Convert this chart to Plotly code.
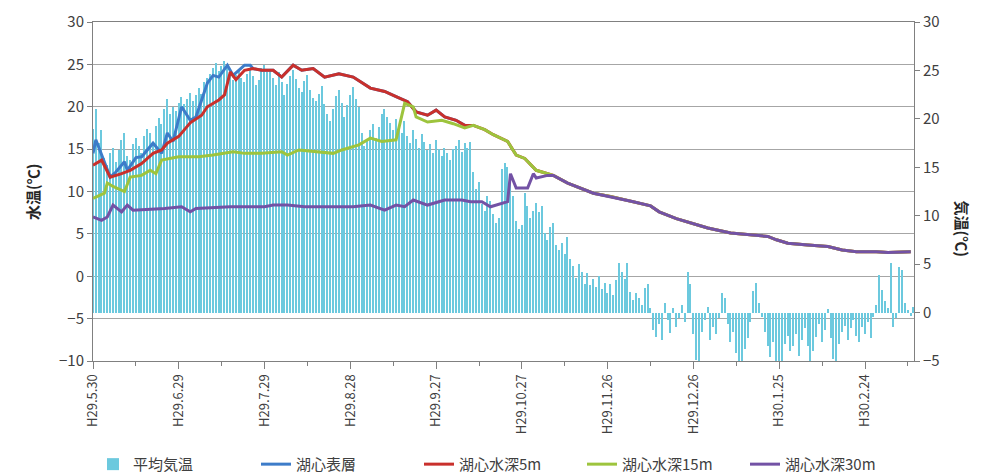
import pandas as pd
import plotly.graph_objects as go

# ---------------- data ----------------
# daily mean air temperature (right axis, ℃), 2017-05-30 .. 2018-03-13
air_may = [19.0, 21.0]
air_jun = [17.5, 18.8, 16.0, 15.2, 16.5, 17.0, 15.5, 16.8, 17.8, 18.5,
           16.2, 15.8, 17.4, 18.0, 17.2, 16.5, 18.2, 19.0, 18.5, 17.6,
           19.3, 20.1, 19.5, 21.0, 22.0, 20.5, 21.2, 20.8, 21.6, 22.3]
air_jul = [21.5, 22.0, 22.7, 21.8, 22.5, 23.2, 22.6, 23.8, 24.2, 24.6,
           25.3, 25.8, 24.9, 25.5, 26.0, 25.2, 24.8, 24.0, 24.5, 25.0,
           24.2, 23.8, 24.6, 25.1, 24.4, 23.5, 24.0, 25.2, 25.6, 24.8, 25.0]
air_aug = [24.2, 23.5, 24.8, 23.8, 22.5, 23.6, 24.4, 25.0, 24.1, 23.2,
           22.8, 23.9, 24.5, 23.0, 22.2, 21.8, 22.6, 23.4, 21.5, 20.5,
           19.8, 21.0, 22.4, 23.0, 21.6, 20.2, 21.4, 22.5, 23.3, 22.0, 21.2]
air_sep = [18.5, 17.2, 17.8, 18.9, 19.5, 18.0, 19.2, 20.5, 21.0, 20.2,
           19.6, 18.8, 20.0, 19.4, 18.5, 19.8, 18.2, 17.5, 18.8, 17.9,
           17.0, 18.4, 17.6, 16.8, 17.4, 16.5, 17.8, 16.9, 16.2, 17.0]
air_oct = [16.5, 15.8, 16.9, 17.2, 17.8, 16.6, 17.5, 17.0, 17.6, 14.5,
           12.8, 13.5, 11.2, 10.5, 12.0, 11.5, 10.2, 9.2, 9.8, 14.8,
           15.4, 15.0, 14.2, 12.0, 9.5, 8.6, 9.0, 12.3, 11.0, 9.8, 10.5]
air_nov = [11.3, 10.4, 11.0, 8.2, 7.5, 8.8, 9.2, 7.0, 6.5, 7.2,
           6.0, 7.8, 5.5, 4.8, 3.6, 5.0, 4.2, 3.0, 4.1, 2.8,
           3.5, 2.6, 3.8, 2.4, 3.1, 2.0, 2.9, 1.8, 3.4, 5.1]
air_dec = [4.2, 3.5, 5.1, 2.1, 1.3, 2.0, 1.5, 0.8, 2.5, 3.0,
           0.5, -1.8, -2.5, -1.2, -2.8, 1.0, -0.8, -2.1, 0.5, -1.5,
           -0.6, 0.8, -1.0, 4.2, 3.0, -2.2, -4.9, -5.4, -2.0, -0.8, 0.6]
air_jan = [-2.8, -1.5, -2.2, -0.6, 2.0, 1.5, -1.2, -3.0, -2.0, -4.2,
           -5.5, -5.8, -3.8, -2.6, -1.0, 2.2, 3.1, 1.0, -0.5, -2.0,
           -3.5, -4.6, -3.0, -5.6, -6.0, -5.2, -3.2, -2.4, -4.0, -3.4, -2.2]
air_feb = [-4.5, -2.8, -1.6, -3.5, -5.4, -4.0, -2.5, -1.2, -3.0, -1.8,
           0.4, -2.6, -4.8, -5.5, -3.2, -2.0, -1.4, -2.8, -1.6, -0.8,
           -2.4, -3.0, -1.5, -2.2, -1.0, -2.6, -0.5, 0.8]
air_mar = [3.9, 2.3, 1.2, 0.5, 5.1, -1.5, -0.6, 4.7, 4.4, 1.0, 0.3, -0.4, 0.6]

air_temp = (air_may + air_jun + air_jul + air_aug + air_sep + air_oct +
            air_nov + air_dec + air_jan + air_feb + air_mar)
air_dates = pd.date_range("2017-05-30", periods=len(air_temp), freq="D")

# water temperature (left axis, ℃)
surf_dates = ["2017-05-30", "2017-05-31", "2017-06-05", "2017-06-07", "2017-06-10",
              "2017-06-11", "2017-06-14", "2017-06-16", "2017-06-20", "2017-06-23",
              "2017-06-25", "2017-06-27", "2017-06-30", "2017-07-03", "2017-07-05",
              "2017-07-09", "2017-07-11", "2017-07-13", "2017-07-16", "2017-07-18",
              "2017-07-22", "2017-07-24"]
surf_vals = [14.5, 16.1, 11.7, 12.3, 13.5,
             12.5, 14.0, 14.1, 15.7, 14.5,
             16.9, 15.9, 20.0, 18.4, 18.8,
             22.8, 23.7, 23.5, 24.9, 23.7,
             24.9, 24.9]

m5_dates = ["2017-05-30", "2017-06-02", "2017-06-05", "2017-06-09", "2017-06-12",
            "2017-06-16", "2017-06-20", "2017-06-23", "2017-06-25", "2017-06-29",
            "2017-07-03", "2017-07-07", "2017-07-09", "2017-07-13", "2017-07-15",
            "2017-07-17", "2017-07-19", "2017-07-22", "2017-07-25", "2017-07-28",
            "2017-08-01", "2017-08-04", "2017-08-08", "2017-08-11", "2017-08-15",
            "2017-08-19", "2017-08-24", "2017-08-29", "2017-09-04", "2017-09-09",
            "2017-09-13", "2017-09-17", "2017-09-20", "2017-09-24", "2017-09-27",
            "2017-09-30", "2017-10-04", "2017-10-07"]
m5_vals = [13.1, 13.7, 11.7, 12.1, 12.5,
           13.3, 14.5, 14.9, 15.7, 16.5,
           18.1, 19.0, 20.0, 20.8, 21.4,
           24.1, 23.2, 24.3, 24.5, 24.3,
           24.3, 23.5, 24.9, 24.3, 24.5,
           23.5, 23.9, 23.5, 22.2, 21.8,
           21.2, 20.6, 19.4, 19.0, 19.6,
           18.8, 18.4, 17.8]

m15_dates = ["2017-05-30", "2017-06-03", "2017-06-04", "2017-06-06", "2017-06-10",
             "2017-06-12", "2017-06-16", "2017-06-19", "2017-06-21", "2017-06-23",
             "2017-06-29", "2017-07-06", "2017-07-11", "2017-07-18", "2017-07-22",
             "2017-07-28", "2017-08-04", "2017-08-06", "2017-08-10", "2017-08-15",
             "2017-08-22", "2017-08-25", "2017-08-31", "2017-09-04", "2017-09-08",
             "2017-09-13", "2017-09-16", "2017-09-19", "2017-09-20", "2017-09-24",
             "2017-09-29", "2017-10-03", "2017-10-07"]
m15_vals = [9.2, 9.8, 11.0, 10.6, 10.0,
            11.7, 11.9, 12.5, 12.1, 13.7,
            14.1, 14.1, 14.3, 14.7, 14.5,
            14.5, 14.7, 14.3, 14.9, 14.7,
            14.5, 14.9, 15.5, 16.3, 15.9,
            16.1, 20.4, 20.0, 18.8, 18.2,
            18.4, 18.0, 17.5]

# 5m and 15m run together from mid-October
mix_dates = ["2017-10-10", "2017-10-14", "2017-10-17", "2017-10-22", "2017-10-25",
             "2017-10-28", "2017-11-01", "2017-11-07"]
mix_vals = [17.8, 17.3, 16.7, 15.9, 14.3,
            13.9, 12.5, 11.9]

m30_dates = ["2017-05-30", "2017-06-02", "2017-06-04", "2017-06-06", "2017-06-09",
             "2017-06-11", "2017-06-13", "2017-06-24", "2017-06-30", "2017-07-03",
             "2017-07-05", "2017-07-17", "2017-07-29", "2017-08-01", "2017-08-06",
             "2017-08-12", "2017-08-24", "2017-08-29", "2017-09-04", "2017-09-09",
             "2017-09-13", "2017-09-16", "2017-09-19", "2017-09-24", "2017-09-30",
             "2017-10-06", "2017-10-09", "2017-10-13", "2017-10-16", "2017-10-22",
             "2017-10-23", "2017-10-25", "2017-10-29", "2017-10-31", "2017-11-01",
             "2017-11-05", "2017-11-07"]
m30_vals = [7.0, 6.6, 7.0, 8.4, 7.6,
            8.4, 7.8, 8.0, 8.2, 7.6,
            8.0, 8.2, 8.2, 8.4, 8.4,
            8.2, 8.2, 8.2, 8.4, 7.8,
            8.4, 8.2, 9.0, 8.4, 9.0,
            9.0, 8.8, 8.8, 8.2, 8.8,
            12.1, 10.4, 10.4, 12.1, 11.6,
            11.9, 11.9]

# all layers together from November (winter overturn)
tail_dates = ["2017-11-12", "2017-11-21", "2017-11-27", "2017-12-05", "2017-12-11",
              "2017-12-14", "2017-12-20", "2017-12-26", "2017-12-31", "2018-01-08",
              "2018-01-15", "2018-01-21", "2018-01-24", "2018-01-28", "2018-02-04",
              "2018-02-11", "2018-02-16", "2018-02-21", "2018-02-28", "2018-03-04",
              "2018-03-12"]
tail_vals = [11.0, 9.8, 9.4, 8.8, 8.3,
             7.6, 6.8, 6.2, 5.7, 5.1,
             4.9, 4.7, 4.3, 3.9, 3.7,
             3.5, 3.1, 2.9, 2.9, 2.8,
             2.9]

tick_dates = ["2017-05-30", "2017-06-29", "2017-07-29", "2017-08-28", "2017-09-27",
              "2017-10-27", "2017-11-26", "2017-12-26", "2018-01-25", "2018-02-24"]
tick_text = ["H29.5.30", "H29.6.29", "H29.7.29", "H29.8.28", "H29.9.27",
             "H29.10.27", "H29.11.26", "H29.12.26", "H30.1.25", "H30.2.24"]

names = ["平均気温", "湖心表層", "湖心水深5m", "湖心水深15m", "湖心水深30m"]
colors = ["#6CC9DE", "#3D7CC9", "#C9302C", "#9DC43D", "#7352A5"]

# surface layer is hidden under the 5m line once they coincide (late July on)
k = m5_dates.index("2017-07-25")
surf_x = surf_dates + m5_dates[k:]
surf_y = surf_vals + m5_vals[k:]

# ---------------- figure ----------------
FONT = "Noto Sans CJK JP, Liberation Sans, sans-serif"
fig = go.Figure()

# bars on the base axis (y, shown on the right) so the water lines (y2) sit on top
fig.add_trace(go.Bar(x=air_dates, y=air_temp, name=names[0], yaxis="y",
                     marker=dict(color=colors[0], line=dict(width=0)),
                     width=86400000 * 0.5))

fig.add_trace(go.Scatter(x=surf_x, y=surf_y, mode="lines", name=names[1],
                         yaxis="y2", line=dict(color=colors[1], width=3)))
fig.add_trace(go.Scatter(x=m5_dates + mix_dates + tail_dates,
                         y=m5_vals + mix_vals + tail_vals, mode="lines", name=names[2],
                         yaxis="y2", line=dict(color=colors[2], width=3)))
fig.add_trace(go.Scatter(x=m15_dates + mix_dates + tail_dates,
                         y=m15_vals + mix_vals + tail_vals, mode="lines", name=names[3],
                         yaxis="y2", line=dict(color=colors[3], width=3)))
fig.add_trace(go.Scatter(x=m30_dates + tail_dates,
                         y=m30_vals + tail_vals, mode="lines", name=names[4],
                         yaxis="y2", line=dict(color=colors[4], width=3)))

# the page places the figure 8px from the top-left corner, so the figure is
# 8px smaller than the window and the left/top margins are 8px smaller too
fig.update_layout(
    width=982, height=468,
    margin=dict(l=85, r=76, t=14, b=115, autoexpand=False),
    paper_bgcolor="white", plot_bgcolor="white",
    font=dict(family=FONT, size=14, color="#404040"),
    bargap=0,
    showlegend=True,
    legend=dict(orientation="h", x=0.0, xanchor="left", y=-0.305, yanchor="middle",
                font=dict(size=15, color="#404040"), entrywidth=118,
                traceorder="normal", itemwidth=30),
    xaxis=dict(
        type="date", automargin=False,
        range=["2017-05-30", "2018-03-13 03:00"],
        tickmode="array", tickvals=tick_dates, ticktext=tick_text,
        tickangle=-90, tickfont=dict(size=13, color="#404040"),
        ticks="outside", ticklen=7, tickcolor="#808080",
        showline=True, linecolor="#808080", linewidth=1, mirror=True,
        showgrid=False, zeroline=False,
        minor=dict(ticks="outside", ticklen=4, tickcolor="#808080",
                   dtick=15 * 86400000, tick0="2017-05-30", showgrid=False),
    ),
    # air temperature axis (right)
    yaxis=dict(
        range=[-5, 30], dtick=5, tick0=0, side="right", automargin=False,
        showgrid=False, zeroline=False, showline=True, linecolor="#808080",
        ticks="outside", ticklen=5, tickcolor="#808080",
        tickfont=dict(size=15, color="#404040"),
    ),
    # water temperature axis (left)
    yaxis2=dict(
        range=[-10, 30], dtick=5, tick0=0, side="left", overlaying="y",
        automargin=False,
        showgrid=True, gridcolor="#A6A6A6", gridwidth=1,
        zeroline=False, showline=True, linecolor="#808080", linewidth=1,
        ticks="outside", ticklen=5, tickcolor="#808080",
        tickfont=dict(size=15, color="#404040"),
    ),
    annotations=[
        dict(text="<b>水温(℃)</b>", textangle=-90, xref="paper", yref="paper",
             x=-0.089, y=0.5, showarrow=False, font=dict(size=15, color="#262626")),
        dict(text="<b>気温(℃)</b>", textangle=90, xref="paper", yref="paper",
             x=1.074, y=0.39, showarrow=False, font=dict(size=15, color="#262626")),
    ],
)

fig.write_html("out.html")
